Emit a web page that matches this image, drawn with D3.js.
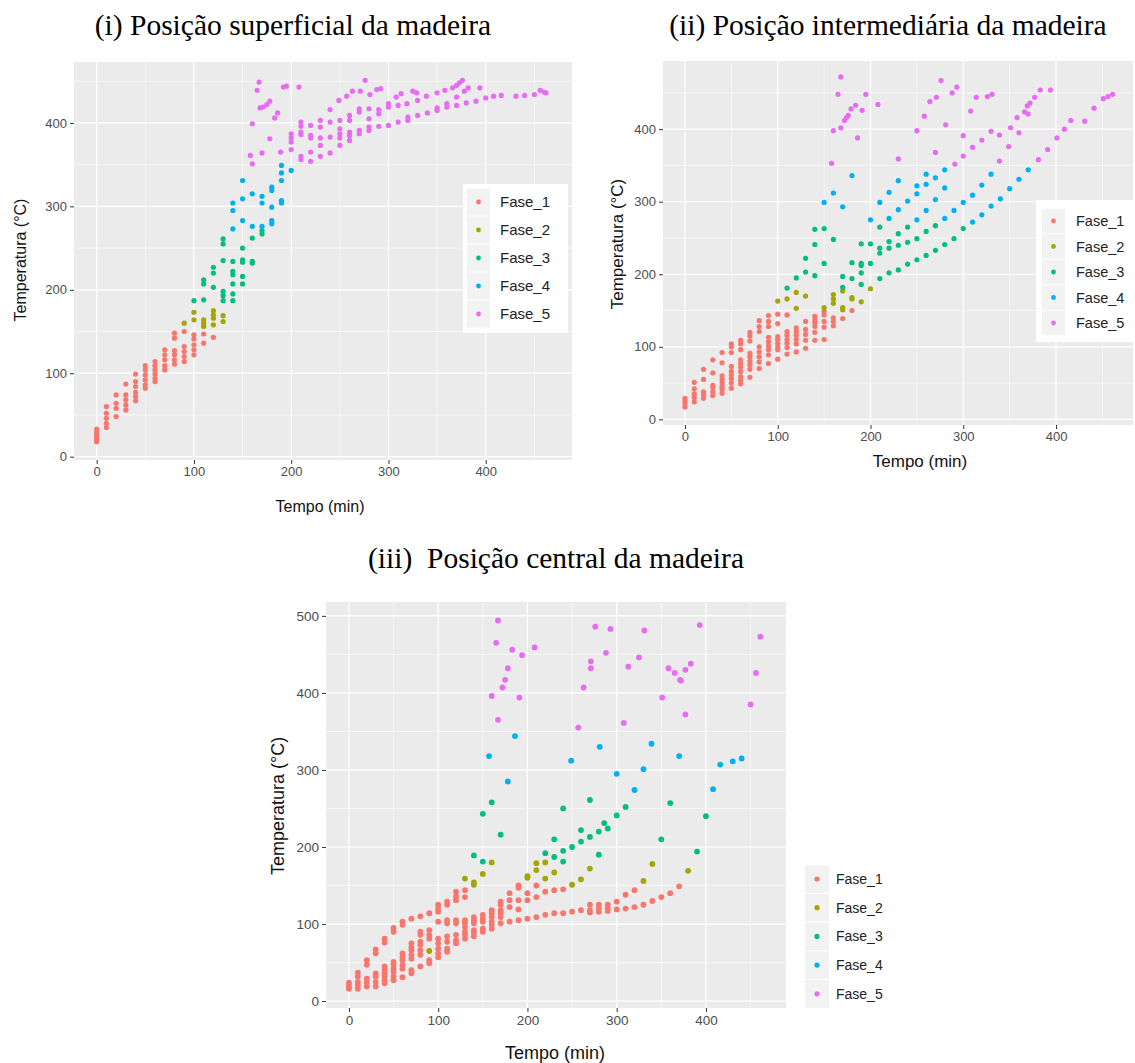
<!DOCTYPE html>
<html>
<head>
<meta charset="utf-8">
<script src="https://cdn.jsdelivr.net/npm/d3@7"></script>
<style>
  html, body { margin: 0; padding: 0; background: #fff; }
  svg { display: block; }
  text { white-space: pre; }
</style>
</head>
<body>
<svg id="fig" width="1135" height="1063"></svg>
<script>
// ---------------------------------------------------------------
// Temperature readings (°C) against time (min), by phase.
// Column form: [time, [temperatures...]] ; pair form: [time, temperature]
// ---------------------------------------------------------------
const phases = ["Fase_1", "Fase_2", "Fase_3", "Fase_4", "Fase_5"];
const phaseColors = ["#F8766D", "#A3A500", "#00BF7D", "#00B0F6", "#E76BF3"];
const xTickLabels = [0, 100, 200, 300, 400];
const yTicksSup = [0, 100, 200, 300, 400];
const yTicksInt = [0, 100, 200, 300, 400];
const yTicksCen = [0, 100, 200, 300, 400, 500];

// (i) superficial position
const supF1 = [[0,[18,21,24,27,30,33]],[10,[60,52,46,40,35]],[20,[74,64,58,48]],[30,[87,74,68,62,56]],
  [40,[99,90,84,77,72,67]],[50,[109,104,98,92,86,82]],[60,[114,109,104,99,94,90]],[70,[128,122,116,109,104]],
  [80,[148,142,127,122,116,111]],[90,[150,132,126,120,114]],[100,[146,141,134,128,122]],[110,[147,136]],[120,[143]]];
const supF2 = [[90,[160]],[100,[173,164]],[110,[164,160,156]],[120,[175,170,166,158]],[130,[169,162]]];
const supF3 = [[100,[187]],[110,[212,207,188]],[120,[227,220,203]],[130,[261,255,235,198,193,187]],
  [140,[234,222,218,207,195,187]],[150,[250,236,233,216,207]],[160,[262,234,232]],[170,[271,267]]];
const supF4 = [[140,[304,295,273]],[150,[331,309,283]],[160,[315,276]],[170,[312,304,276]],
  [180,[323,319,299,283,279]],[190,[349,340,331,307,304]],[200,[343]]];
const supF5 = [[158,361],[160,351],[160,399],[165,439],[167,449],[168,418],[170,364],[171,419],[175,422],[178,426],
  [178,381],[183,406],[186,412],[189,365],[192,443],[195,444],[208,443],
  [200,387],[200,382],[200,377],[200,368],[210,401],[210,396],[210,389],[210,386],[210,360],[210,356],
  [220,397],[220,385],[220,382],[220,365],[220,354],[230,403],[230,395],[230,382],[230,373],[230,360],
  [240,416],[240,401],[240,383],[240,364],[249,427],[250,403],[250,393],[250,387],[250,382],[250,373],
  [257,432],[260,409],[260,403],[260,389],[260,385],[260,379],[263,438],[271,438],[270,417],[270,413],[270,391],[270,387],
  [276,451],[281,434],[280,417],[280,405],[280,395],[280,391],[288,440],[292,441],[290,416],[290,411],[290,396],
  [300,423],[300,419],[300,397],[308,431],[313,435],[310,421],[310,401],[319,423],[320,407],[320,403],
  [325,438],[329,436],[330,427],[330,409],[339,432],[340,412],[350,436],[350,418],[350,415],
  [358,439],[360,423],[360,419],[366,442],[370,445],[373,448],[376,451],[370,431],[370,421],
  [378,438],[382,442],[380,424],[390,426],[394,442],[400,430],[408,432],[416,433],[431,432],
  [440,433],[450,434],[456,439],[460,437],[462,436]];

// (ii) intermediate position
const intF1 = [[0,[17,21,25,29]],[10,[51,42,35,30,24]],[20,[69,55,38,34,29]],[30,[82,64,47,44,38,33]],
  [40,[92,78,60,55,50,45,41,36]],[50,[104,100,92,73,66,61,56,50,43]],[60,[109,104,96,82,77,72,66,59,54,49]],
  [70,[120,115,108,91,86,80,75,69,58]],[80,[136,128,121,100,93,86,79,70]],[90,[143,135,128,113,107,101,96,89,77]],
  [100,[145,132,114,110,105,100,96,83]],[110,[144,121,116,110,105,99,90]],[120,[126,121,116,110,104,93]],
  [130,[135,124,117,109,98]],[140,[142,137,133,128,120,109]],[150,[149,144,135,127,110]],
  [160,[140,135,129]],[170,[139]],[180,[150]]];
const intF2 = [[100,163],[110,166],[120,175],[120,153],[130,170],[150,154],[160,172],[160,166],[160,160],
  [170,177],[170,154],[170,151],[180,168],[180,166],[190,162],[200,180]];
const intF3 = [[110,181],[120,195],[130,222],[130,203],[140,262],[140,241],[140,198],[150,263],[150,215],
  [160,248],[170,197],[170,182],[180,216],[180,194],[190,242],[190,215],[190,212],[190,202],[190,186],
  [200,242],[200,215],[210,265],[210,236],[210,229],[210,194],[220,245],[220,236],[220,202],
  [230,256],[230,240],[230,206],[240,265],[240,244],[240,214],[250,249],[250,220],[260,259],[260,226],
  [270,267],[270,233],[280,241],[290,249],[300,263]];
const intF4 = [[150,299],[160,312],[170,293],[180,336],[200,275],[210,299],[220,313],[220,277],[230,329],
  [230,289],[240,301],[250,322],[250,311],[250,275],[260,338],[260,324],[260,288],[270,333],[270,303],
  [280,344],[280,319],[280,277],[290,288],[300,299],[310,309],[310,272],[320,323],[320,282],[330,338],
  [330,294],[340,304],[350,318],[360,331],[370,344]];
const intF5 = [[168,472],[165,448],[160,398],[168,402],[158,353],[172,412],[174,416],[176,419],[179,428],
  [184,433],[191,426],[195,448],[186,388],[208,434],[250,398],[230,359],[258,418],[264,438],[271,444],
  [276,467],[270,368],[281,406],[288,450],[293,458],[291,352],[300,391],[300,363],[308,425],[314,444],
  [310,375],[320,385],[326,445],[331,448],[330,397],[339,392],[339,356],[349,376],[351,402],[358,416],
  [360,395],[366,424],[369,432],[372,436],[370,421],[377,444],[383,454],[394,454],[381,358],[391,372],
  [401,388],[409,400],[416,412],[431,411],[441,429],[451,442],[456,445],[461,448]];

// (iii) central position
const cenF1 = [[0,[24,20,16]],[10,[37,32,25,21,16]],[20,[53,47,29,24,19]],[30,[67,62,36,32,25,19]],
  [40,[81,76,45,40,36,32,27,23]],[50,[95,90,51,47,42,38,32,27]],[60,[103,99,62,57,53,47,42,31]],
  [70,[107,75,70,66,60,55,40,36]],[80,[110,90,86,77,73,66,60,45]],[90,[114,92,86,81,53,49]],
  [100,[125,120,116,103,81,75,68,62,57]],[110,[129,125,105,101,84,77,68,64]],[120,[142,136,131,105,101,86,79,75]],
  [130,[144,135,105,101,96,90,86,81]],[140,[109,105,101,92,88,84]],[150,[112,107,103,94,90]],
  [160,[118,114,109,103,99,94]],[170,[129,125,118,114,109,101]],[180,[140,131,122,103]],
  [190,[150,147,131,119,105]],[200,[140,131,107]],[210,[150,135,109]],[220,[142,112]],[230,[144,114]],
  [240,[145,114]],[250,[116]],[260,[118]],[270,[125,118,115]],[280,[125,120,116]],[290,[125,120,117]],
  [300,[129,119]],[310,[138,120]],[320,[144,122]],[330,[125]],[340,[130]],[350,[135]],[360,[140]],[370,[149]]];
const cenF2 = [[90,65],[130,159],[140,154],[140,151],[150,165],[160,180],[200,162],[200,160],[210,179],
  [210,170],[220,180],[220,159],[230,167],[250,151],[260,158],[270,172],[330,156],[340,178],[380,169]];
const cenF3 = [[140,189],[150,243],[150,181],[160,258],[170,216],[220,192],[230,210],[230,187],[240,250],
  [240,195],[240,181],[250,200],[260,222],[260,207],[270,261],[270,213],[280,220],[280,190],[286,231],
  [290,224],[300,241],[310,252],[350,210],[360,257],[390,194],[400,240]];
const cenF4 = [[157,318],[178,285],[186,344],[249,312],[281,330],[300,295],[320,274],[330,301],[339,334],
  [370,318],[408,275],[416,307],[430,311],[440,315]];
const cenF5 = [[167,494],[165,465],[160,396],[167,365],[172,407],[175,417],[178,432],[183,456],[191,394],
  [194,449],[208,459],[257,355],[263,407],[271,432],[271,441],[276,486],[288,452],[293,483],[308,361],
  [313,434],[325,446],[331,481],[351,394],[358,432],[365,426],[371,417],[372,416],[377,430],[377,372],
  [383,438],[393,488],[450,385],[456,426],[461,473]];

// flatten column-form arrays into {t, v} records
const fromColumns = cols => cols.flatMap(([t, vs]) => vs.map(v => ({ t, v })));
const fromPairs = pairs => pairs.map(([t, v]) => ({ t, v }));

const svg = d3.select("#fig");
const sans = "'Liberation Sans', Arial, sans-serif";
const serif = "'Liberation Serif', 'Times New Roman', serif";

function drawPanel(cfg) {
  const x = d3.scaleLinear().domain(cfg.xDomain).range([cfg.left, cfg.right]);
  const y = d3.scaleLinear().domain(cfg.yDomain).range([cfg.bottom, cfg.top]);
  const g = svg.append("g");

  g.append("rect").attr("x", cfg.left).attr("y", cfg.top)
    .attr("width", cfg.right - cfg.left).attr("height", cfg.bottom - cfg.top)
    .attr("fill", "#EBEBEB");

  const xMinor = d3.range(50, 500, 100).filter(v => v > cfg.xDomain[0] && v < cfg.xDomain[1]);
  const yMinor = d3.range(50, 550, 100).filter(v => v > cfg.yDomain[0] && v < cfg.yDomain[1]);
  g.selectAll(null).data(xMinor).join("line")
    .attr("x1", d => x(d)).attr("x2", d => x(d)).attr("y1", cfg.top).attr("y2", cfg.bottom)
    .attr("stroke", "#fff").attr("stroke-width", 0.6);
  g.selectAll(null).data(yMinor).join("line")
    .attr("y1", d => y(d)).attr("y2", d => y(d)).attr("x1", cfg.left).attr("x2", cfg.right)
    .attr("stroke", "#fff").attr("stroke-width", 0.6);
  g.selectAll(null).data(xTickLabels).join("line")
    .attr("x1", d => x(d)).attr("x2", d => x(d)).attr("y1", cfg.top).attr("y2", cfg.bottom)
    .attr("stroke", "#fff").attr("stroke-width", 1.2);
  g.selectAll(null).data(cfg.yTicks).join("line")
    .attr("y1", d => y(d)).attr("y2", d => y(d)).attr("x1", cfg.left).attr("x2", cfg.right)
    .attr("stroke", "#fff").attr("stroke-width", 1.2);

  // points, phase by phase
  cfg.series.forEach((pts, i) => {
    g.selectAll(null).data(pts).join("circle")
      .attr("cx", d => x(d.t)).attr("cy", d => y(d.v)).attr("r", cfg.r)
      .attr("fill", phaseColors[i]);
  });

  // axes
  const xAxis = d3.axisBottom(x).tickValues(xTickLabels).tickSize(4).tickPadding(3);
  const yAxis = d3.axisLeft(y).tickValues(cfg.yTicks).tickSize(4).tickPadding(3);
  const ax = g.append("g").attr("transform", `translate(0,${cfg.bottom})`).call(xAxis);
  const ay = g.append("g").attr("transform", `translate(${cfg.left},0)`).call(yAxis);
  [ax, ay].forEach(a => {
    a.select(".domain").remove();
    a.selectAll(".tick line").attr("stroke", "#333").attr("stroke-width", 1);
    a.selectAll(".tick text").attr("fill", "#4D4D4D")
      .style("font-family", sans).style("font-size", cfg.tickFont + "px");
  });

  // axis titles
  g.append("text").attr("x", cfg.xTitle[0]).attr("y", cfg.xTitle[1])
    .attr("text-anchor", "middle").attr("fill", "#111")
    .style("font-family", sans).style("font-size", cfg.titleFont + "px").text("Tempo (min)");
  g.append("text").attr("transform", `translate(${cfg.yTitle[0]},${cfg.yTitle[1]}) rotate(-90)`)
    .attr("text-anchor", "middle").attr("fill", "#111")
    .style("font-family", sans).style("font-size", cfg.titleFont + "px").text("Temperatura (°C)");

  // legend
  const L = cfg.legend;
  const lg = g.append("g");
  if (L.box) {
    lg.append("rect").attr("x", L.box[0]).attr("y", L.box[1]).attr("width", L.box[2]).attr("height", L.box[3])
      .attr("fill", "#fff");
  }
  phases.forEach((name, i) => {
    const cy = L.y0 + i * L.step;
    lg.append("rect").attr("x", L.kx).attr("y", cy - L.step / 2 + 0.5)
      .attr("width", L.kw).attr("height", L.step - 1).attr("fill", "#F2F2F2");
    lg.append("circle").attr("cx", L.kx + L.kw / 2).attr("cy", cy).attr("r", L.r).attr("fill", phaseColors[i]);
    lg.append("text").attr("x", L.tx).attr("y", cy).attr("dy", "0.35em").attr("fill", "#222")
      .style("font-family", sans).style("font-size", L.font + "px").text(name);
  });

  // panel heading
  svg.append("text").attr("x", cfg.heading[0]).attr("y", cfg.heading[1]).attr("text-anchor", "middle")
    .attr("fill", "#000").style("font-family", serif).style("font-size", "29.5px").text(cfg.heading[2]);
}

drawPanel({
  left: 74, right: 572, top: 62, bottom: 460,
  xDomain: [-23.3, 488.7], yDomain: [-4, 473], yTicks: yTicksSup, r: 2.6,
  tickFont: 13, titleFont: 16,
  xTitle: [320, 512], yTitle: [26, 260],
  series: [fromColumns(supF1), fromColumns(supF2), fromColumns(supF3), fromColumns(supF4), fromPairs(supF5)],
  legend: { box: [463, 184, 105, 149], kx: 467, kw: 23, y0: 202, step: 28, r: 2.4, tx: 500, font: 15 },
  heading: [293, 35, "(i) Posição superficial da madeira"]
});

drawPanel({
  left: 663, right: 1133, top: 61, bottom: 425,
  xDomain: [-23.7, 483], yDomain: [-7.8, 494], yTicks: yTicksInt, r: 2.6,
  tickFont: 13, titleFont: 17,
  xTitle: [920, 467], yTitle: [623, 244],
  series: [fromColumns(intF1), fromPairs(intF2), fromPairs(intF3), fromPairs(intF4), fromPairs(intF5)],
  legend: { box: [1036, 200, 97, 142], kx: 1042, kw: 23, y0: 221, step: 25.5, r: 2.4, tx: 1076, font: 14.5 },
  heading: [888, 35, "(ii) Posição intermediária da madeira"]
});

drawPanel({
  left: 326, right: 786, top: 602, bottom: 1008,
  xDomain: [-25.7, 489.7], yDomain: [-9, 518], yTicks: yTicksCen, r: 2.9,
  tickFont: 13.5, titleFont: 18,
  xTitle: [555, 1059], yTitle: [284, 806],
  series: [fromColumns(cenF1), fromPairs(cenF2), fromPairs(cenF3), fromPairs(cenF4), fromPairs(cenF5)],
  legend: { box: null, kx: 805, kw: 24, y0: 879, step: 28.7, r: 2.6, tx: 836, font: 14 },
  heading: [556, 568, "(iii)  Posição central da madeira"]
});
</script>
</body>
</html>
